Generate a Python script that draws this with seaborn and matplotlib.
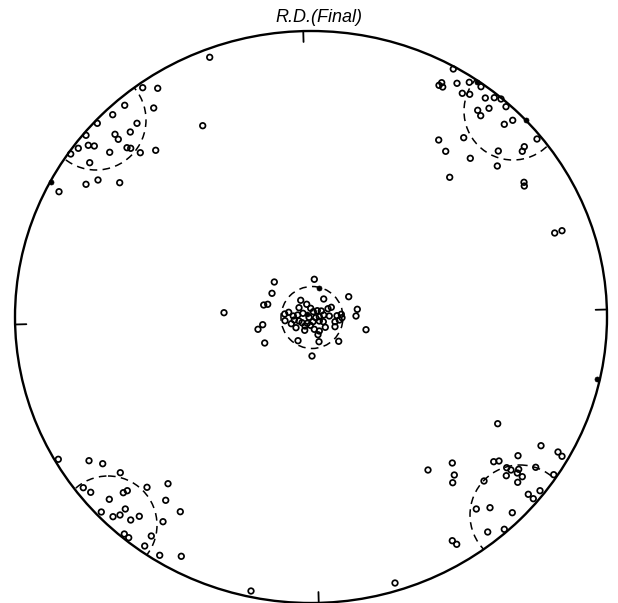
import numpy as np
import matplotlib
matplotlib.use("Agg")
import matplotlib.pyplot as plt
from matplotlib.patches import Ellipse, Circle
import seaborn as sns

sns.set_style("white")
plt.rcParams["font.family"] = ["Liberation Sans", "DejaVu Sans"]

# Pole positions on the projection sheet (sheet units, y downward)
pole_x = [
    # upper-left cluster
    142.7, 157.7, 153.7, 124.7, 112.7, 97.3, 137.0, 130.3, 115.0, 118.3, 86.0,
    88.3, 94.3, 78.3, 127.0, 130.7, 109.7, 140.3, 155.7, 70.7, 89.7, 86.0,
    98.0, 119.7, 59.0, 209.7, 202.7,
    # upper-right cluster
    453.3, 441.7, 439.0, 442.7, 457.0, 469.3, 481.0, 462.3, 469.7, 485.3, 494.3,
    501.0, 506.0, 477.7, 489.0, 480.7, 512.7, 504.3, 537.0, 438.7, 463.7, 445.7,
    498.3, 524.3, 522.3, 470.3, 497.3, 449.7, 524.0, 524.3, 554.7, 562.0,
    # centre cluster
    274.3, 314.3, 272.0, 348.7, 263.7, 267.7, 224.0, 300.7, 323.7, 306.7, 299.0,
    310.7, 313.3, 317.3, 321.3, 328.0, 331.3, 357.3, 284.7, 288.7, 293.3, 297.7,
    303.0, 294.3, 299.0, 309.0, 315.7, 319.3, 323.7, 329.3, 337.0, 341.3, 285.0,
    356.0, 302.0, 307.3, 313.0, 319.3, 323.3, 335.0, 339.3, 342.0, 291.3, 296.0,
    305.0, 310.3, 325.3, 335.0, 262.7, 258.0, 304.7, 314.3, 319.3, 318.0, 366.0,
    298.0, 319.0, 338.7, 264.7, 312.0,
    # lower-left cluster
    58.3, 89.0, 102.7, 120.3, 83.3, 90.7, 123.3, 127.3, 147.0, 168.0, 109.3,
    165.7, 125.3, 101.3, 120.0, 113.0, 139.3, 130.7, 180.3, 163.0, 124.3, 128.7,
    151.3, 144.7, 159.7, 181.3,
    # lower-right cluster
    497.7, 541.0, 558.0, 562.0, 428.0, 452.3, 518.0, 493.7, 499.0, 506.7, 511.0,
    518.7, 535.7, 454.3, 452.7, 484.0, 506.3, 517.3, 522.3, 517.7, 553.7, 540.0,
    528.3, 533.3, 476.3, 490.0, 512.3, 487.7, 504.3, 452.3, 456.7,
    # near the rim at the bottom
    251.0, 395.0,
]
pole_y = [
    87.7, 88.3, 108.0, 105.3, 114.7, 123.3, 123.3, 132.0, 134.3, 139.3, 135.3,
    145.3, 146.0, 148.3, 147.7, 148.3, 152.3, 152.7, 150.3, 154.0, 162.7, 184.3,
    180.0, 182.7, 191.7, 57.3, 125.7,
    69.0, 82.7, 85.3, 87.0, 83.3, 82.3, 86.7, 93.3, 94.3, 98.0, 97.7,
    99.0, 106.7, 110.3, 108.3, 115.7, 120.3, 124.3, 139.0, 140.0, 137.7, 151.3,
    151.0, 146.7, 151.3, 158.3, 166.0, 177.3, 182.3, 186.0, 233.0, 230.7,
    282.0, 279.3, 293.3, 296.7, 305.0, 304.3, 312.7, 300.3, 299.0, 304.3, 307.7,
    308.3, 311.7, 310.7, 311.0, 308.7, 307.3, 309.3, 314.0, 312.3, 316.0, 315.0,
    313.3, 320.0, 321.0, 317.3, 317.7, 316.7, 315.0, 316.0, 315.7, 314.3, 320.7,
    316.0, 322.7, 323.3, 321.7, 321.0, 321.7, 321.7, 320.0, 317.7, 323.7, 327.7,
    326.0, 325.3, 327.3, 326.7, 324.7, 329.3, 330.3, 329.3, 331.0, 334.7, 329.7,
    340.7, 341.7, 341.3, 343.0, 356.0,
    459.3, 460.7, 463.7, 472.7, 487.7, 492.3, 492.7, 490.7, 487.3, 483.7, 499.3,
    500.3, 509.0, 512.0, 515.0, 516.7, 516.3, 520.0, 511.7, 521.7, 534.0, 537.7,
    536.0, 546.0, 555.3, 556.3,
    423.7, 445.7, 452.0, 456.3, 470.0, 463.0, 455.7, 461.7, 461.0, 467.7, 470.0,
    469.3, 467.3, 475.0, 482.7, 481.0, 475.7, 473.0, 476.7, 482.3, 474.7, 490.7,
    494.3, 498.7, 509.0, 507.7, 512.7, 532.0, 529.3, 540.7, 544.3,
    591.0, 583.0,
]

# Filled reference marks
mark_x = [51.0, 476.7, 526.3, 597.0, 319.0, 307.0]
mark_y = [182.3, 81.7, 120.3, 379.0, 288.3, 313.5]

# Dashed spread circles around each texture component: centre x, centre y, radius
spread_cx = [96.0, 513.0, 312.0, 108.0, 520.0]
spread_cy = [120.0, 111.0, 317.5, 525.0, 515.0]
spread_r = [50.0, 49.0, 31.0, 49.0, 50.0]

# Projection circle (sheet units)
CX, CY, RX, RY = 311.0, 317.0, 296.0, 286.0
tick_angles_deg = [1.5, 91.5, 181.5, 271.5]
title = "R.D.(Final)"

fig = plt.figure(figsize=(6.18, 6.03), dpi=100)
ax = fig.add_axes([0, 0, 1, 1])
ax.set_xlim(0, 618)
ax.set_ylim(603, 0)
ax.set_axis_off()

rim = Ellipse((CX, CY), 2 * RX, 2 * RY, fill=False, edgecolor="black",
              linewidth=1.7, zorder=3)
ax.add_patch(rim)
clip = Ellipse((CX, CY), 2 * RX, 2 * RY, fill=False, edgecolor="none",
               transform=ax.transData)
ax.add_patch(clip)

for cx, cy, r in zip(spread_cx, spread_cy, spread_r):
    c = Circle((cx, cy), r, fill=False, edgecolor="black", linewidth=1.1,
               linestyle=(0, (5, 3.5)), zorder=2)
    ax.add_patch(c)
    c.set_clip_path(clip)

# Inward ticks on the rim at the four reference directions
tick_len = 0.038
for a in np.deg2rad(tick_angles_deg):
    ca, sa = np.cos(a), np.sin(a)
    ax.plot([CX + RX * ca, CX + RX * (1 - tick_len) * ca],
            [CY - RY * sa, CY - RY * (1 - tick_len) * sa],
            color="black", linewidth=1.3, zorder=3)

sns.scatterplot(x=pole_x, y=pole_y, ax=ax, marker="o", s=16,
                facecolors="none", edgecolors="black", linewidths=1.25,
                zorder=4)
sns.scatterplot(x=mark_x, y=mark_y, ax=ax, marker="o", s=13,
                color="black", edgecolor="black", linewidth=0.5, zorder=4)

ax.text(319, 17, title, ha="center", va="center", fontsize=13,
        style="italic", color="black")

fig.savefig("out.png", dpi=100)
